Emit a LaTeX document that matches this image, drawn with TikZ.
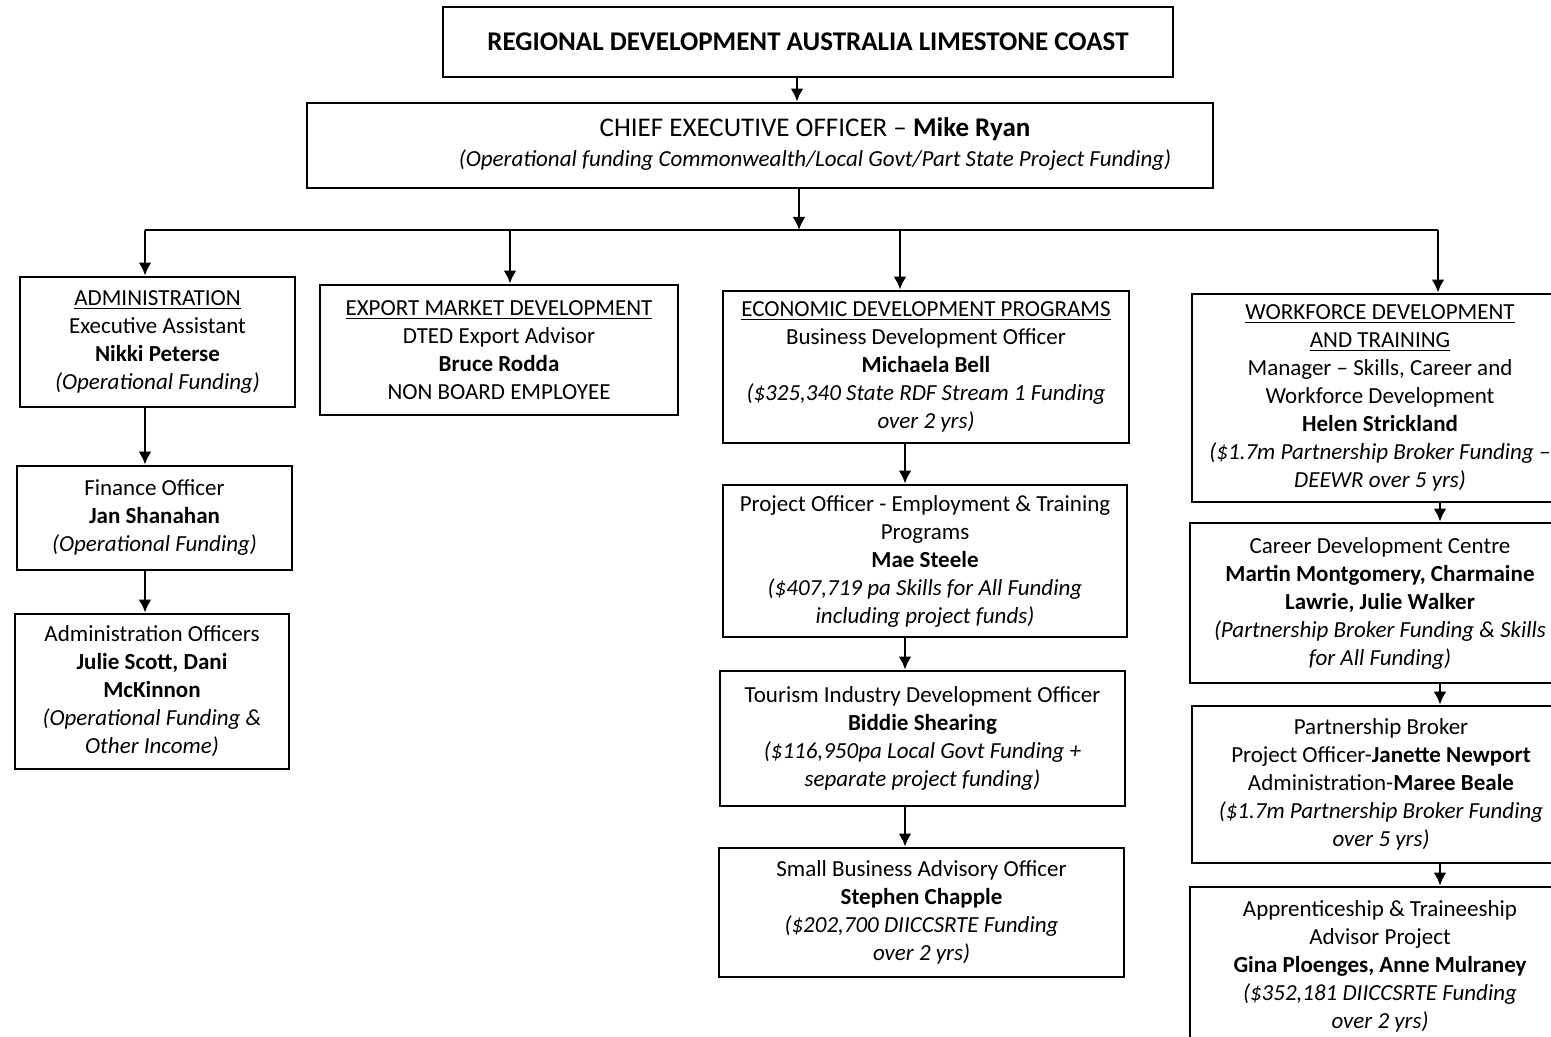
\documentclass[tikz,border=0pt]{standalone}
\usepackage{fontspec}
\setmainfont{Carlito}
\usetikzlibrary{arrows.meta}

\tikzset{
  box/.style={draw, line width=1.4pt, align=center, inner sep=2pt,
    font=\fontsize{11.5}{14}\selectfont},
  arr/.style={line width=1.3pt, -{Latex[length=6.5pt,width=6.5pt]}}
}

\begin{document}
\begin{tikzpicture}[x=0.5pt,y=-0.5pt]
  \fill[white] (0,0) rectangle (1551,1037);
  \useasboundingbox (0,0) rectangle (1551,1037);

  \node[box, minimum width=365pt, minimum height=35pt] (rda) at (808,42)
    {\fontsize{13.5}{16}\selectfont\textbf{REGIONAL DEVELOPMENT AUSTRALIA LIMESTONE COAST}};
  \node[box, minimum width=453pt, minimum height=42.5pt] (ceo) at (760,145.5)
    {\hspace*{55pt}\begin{tabular}{@{}c@{}}
     {\fontsize{13.5}{16}\selectfont CHIEF EXECUTIVE OFFICER -- \textbf{Mike Ryan}}\\[1pt]
     \textit{(Operational funding Commonwealth/Local Govt/Part State Project Funding)}
     \end{tabular}};

  % administration
  \node[box, minimum width=137.5pt, minimum height=65pt] (adm) at (157.5,342)
    {\underline{ADMINISTRATION}\\ Executive Assistant\\ \textbf{Nikki Peterse}\\
     \textit{(Operational Funding)}};
  \node[box, minimum width=137.5pt, minimum height=52pt] (fin) at (154.5,518)
    {Finance Officer\\ \textbf{Jan Shanahan}\\ \textit{(Operational Funding)}};
  \node[box, minimum width=137pt, minimum height=77.5pt] (aoff) at (152,691.5)
    {Administration Officers\\ \textbf{Julie Scott, Dani}\\ \textbf{McKinnon}\\
     \textit{(Operational Funding \&}\\ \textit{Other Income)}};

  % export
  \node[box, minimum width=179pt, minimum height=65pt] (exp) at (499,350)
    {\underline{EXPORT MARKET DEVELOPMENT}\\ DTED Export Advisor\\
     \textbf{Bruce Rodda}\\ NON BOARD EMPLOYEE};

  % economic development
  \node[box, minimum width=203pt, minimum height=76pt] (eco) at (926,367)
    {\underline{ECONOMIC DEVELOPMENT PROGRAMS}\\ Business Development Officer\\
     \textbf{Michaela Bell}\\ \textit{(\$325,340 State RDF Stream 1 Funding}\\
     \textit{over 2 yrs)}};
  \node[box, minimum width=202pt, minimum height=76pt] (proj) at (925,561)
    {Project Officer - Employment \& Training\\ Programs\\ \textbf{Mae Steele}\\
     \textit{(\$407,719 pa Skills for All Funding}\\ \textit{including project funds)}};
  \node[box, minimum width=202.5pt, minimum height=67.5pt] (tour) at (922.5,738.5)
    {Tourism Industry Development Officer\\ \textbf{Biddie Shearing}\\
     \textit{(\$116,950pa Local Govt Funding +}\\ \textit{separate project funding)}};
  \node[box, minimum width=202.5pt, minimum height=64.5pt] (sba) at (921.5,912.5)
    {Small Business Advisory Officer\\ \textbf{Stephen Chapple}\\
     \textit{(\$202,700 DIICCSRTE Funding}\\ \textit{over 2 yrs)}};

  % workforce
  \node[box, minimum width=188pt, minimum height=104pt] (wfd) at (1380,398)
    {\underline{WORKFORCE DEVELOPMENT}\\ \underline{AND TRAINING}\\
     Manager -- Skills, Career and\\ Workforce Development\\
     \textbf{Helen Strickland}\\ \textit{(\$1.7m Partnership Broker Funding --}\\
     \textit{DEEWR over 5 yrs)}};
  \node[box, minimum width=190pt, minimum height=80pt] (car) at (1380,603)
    {Career Development Centre\\ \textbf{Martin Montgomery, Charmaine}\\
     \textbf{Lawrie, Julie Walker}\\ \textit{(Partnership Broker Funding \& Skills}\\
     \textit{for All Funding)}};
  \node[box, minimum width=189pt, minimum height=78.5pt] (pb) at (1381,784.5)
    {Partnership Broker\\ Project Officer-\textbf{Janette Newport}\\
     Administration-\textbf{Maree Beale}\\ \textit{(\$1.7m Partnership Broker Funding}\\
     \textit{over 5 yrs)}};
  \node[box, minimum width=190pt, minimum height=79pt] (app) at (1380,966)
    {Apprenticeship \& Traineeship\\ Advisor Project\\
     \textbf{Gina Ploenges, Anne Mulraney}\\ \textit{(\$352,181 DIICCSRTE Funding}\\
     \textit{over 2 yrs)}};

  \coordinate (colTop) at (797,0);
  \coordinate (colBus) at (799,230);
  \coordinate (colAdm) at (145,0);
  \coordinate (colExp) at (510,0);
  \coordinate (colEco) at (900,0);
  \coordinate (colEcoB) at (905,0);
  \coordinate (colWfd) at (1438,0);
  \coordinate (colWfdB) at (1440,0);

  \draw[arr] (rda.south -| colTop) -- (ceo.north -| colTop);
  \draw[arr] (ceo.south -| colBus) -- (colBus);
  \draw[line width=1.3pt] (colAdm |- colBus) -- (colWfd |- colBus);
  \foreach \n/\c in {adm/colAdm, exp/colExp, eco/colEco, wfd/colWfd}
    \draw[arr] (\c |- colBus) -- (\n.north -| \c);
  \foreach \a/\b in {adm/fin, fin/aoff}
    \draw[arr] (\a.south -| colAdm) -- (\b.north -| colAdm);
  \foreach \a/\b in {eco/proj, proj/tour, tour/sba}
    \draw[arr] (\a.south -| colEcoB) -- (\b.north -| colEcoB);
  \foreach \a/\b in {wfd/car, car/pb, pb/app}
    \draw[arr] (\a.south -| colWfdB) -- (\b.north -| colWfdB);
\end{tikzpicture}
\end{document}
